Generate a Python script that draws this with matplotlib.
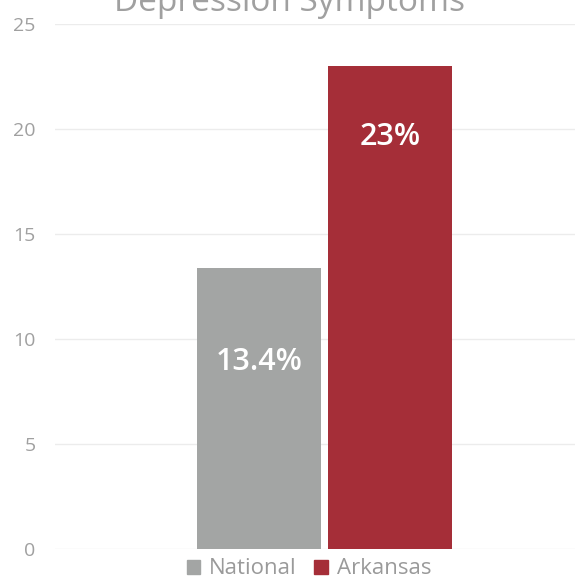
import matplotlib.pyplot as plt
from matplotlib.patches import Patch

series = ["National", "Arkansas"]
values = [13.4, 23]
labels = ["13.4%", "23%"]
colors = ["#a3a5a4", "#a52e38"]
yticks = [0, 5, 10, 15, 20, 25]

plt.rcParams["font.family"] = ["Open Sans", "DejaVu Sans"]

fig = plt.figure(figsize=(5.75, 5.76), dpi=100)
ax = fig.add_axes([55 / 575, 1 - 549 / 576, 520 / 575, 525 / 576])

width = 0.3
gap = 0.017
offsets = [-(width + gap) / 2, (width + gap) / 2]
label_drop = [4.5, 3.4]  # how far below the bar top the value label sits
for off, v, lab, c, d in zip(offsets, values, labels, colors, label_drop):
    ax.bar(off, v, width=width, color=c, zorder=2)
    ax.text(off, v - d, lab, ha="center", va="center", color="white",
            fontsize=22, fontweight="semibold", zorder=3)

ax.set_xlim(-0.652, 0.606)
ax.set_ylim(0, 25)
ax.set_yticks(yticks)
ax.set_xticks([])
ax.tick_params(axis="y", length=0, pad=14, labelsize=14, labelcolor="#a0a0a0")
ax.grid(axis="y", color="#ececec", linewidth=1, zorder=0)
for s in ax.spines.values():
    s.set_visible(False)

fig.text(290 / 575, 1 - 11 / 576, "Depression Symptoms", ha="center", va="baseline",
         fontsize=24, color="#a0a0a0")

handles = [Patch(color=c) for c in colors]
fig.legend(handles, series, loc="center", bbox_to_anchor=(309 / 575, 1 - 569 / 576),
           ncol=2, frameon=False, fontsize=16, labelcolor="#9a9a9a",
           handlelength=0.6, handleheight=0.6, handletextpad=0.4, columnspacing=0.8)

fig.savefig("out.png", dpi=100)
